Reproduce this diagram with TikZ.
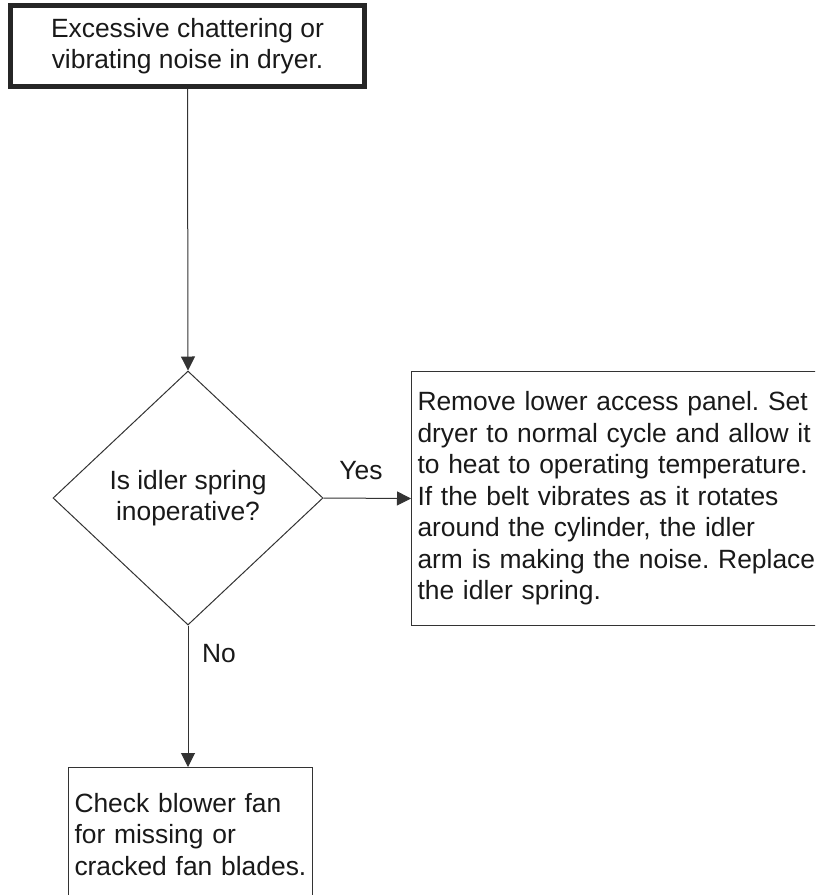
\documentclass[tikz,border=0pt]{standalone}
\usepackage{fontspec}
\setmainfont{Liberation Sans}
\usetikzlibrary{shapes.geometric,arrows.meta}
\begin{document}
\frenchspacing
\begin{tikzpicture}[
        x=0.5pt, y=-0.5pt,
        font=\fontsize{13.2}{15.75}\selectfont,
        text=black!90,
        startNode/.style={rectangle, draw=black!85, line width=2.6pt, minimum width=177pt, minimum height=40.5pt, inner sep=0pt, align=center},
        decisionNode/.style={diamond, draw=black!80, line width=0.5pt, minimum width=135pt, minimum height=127pt, inner sep=0pt, align=center},
        actionNode/.style={rectangle, draw=black!80, line width=0.5pt, anchor=north west, align=left, inner xsep=3pt, inner ysep=0pt},
        flowArrow/.style={-{Triangle[length=7pt,width=7pt]}, draw=black!80, line width=0.5pt}
    ]
        \clip (0,0) rectangle (815,895);
        \useasboundingbox (0,0) rectangle (815,895);

        % Start
        \node[startNode] (start) at (187.5,46) {Excessive chattering or\\vibrating noise in dryer.};

        % Decision
        \node[decisionNode] (idler) at (188,498) {Is idler spring\\inoperative?};

        % Actions
        \node[actionNode, text width=260pt, minimum height=127pt] (replace) at (411,371)
            {Remove lower access panel. Set\\dryer to normal cycle and allow it\\to heat to operating temperature.\\If the belt vibrates as it rotates\\around the cylinder, the idler\\arm is making the noise. Replace\\the idler spring.};
        \node[actionNode, text width=116pt, minimum height=67pt] (blower) at (68,767)
            {Check blower fan\\for missing or\\cracked fan blades.};

        % Labels
        \node (yes) at (361,471) {Yes};
        \node (no) at (219,654) {No};

        % Arrows
        \draw[flowArrow] (start.south) -- (idler.north);
        \draw[flowArrow] (idler.east) -- (replace.west);
        \draw[flowArrow] (idler.south) -- (idler.south |- blower.north);
    \end{tikzpicture}
\end{document}
